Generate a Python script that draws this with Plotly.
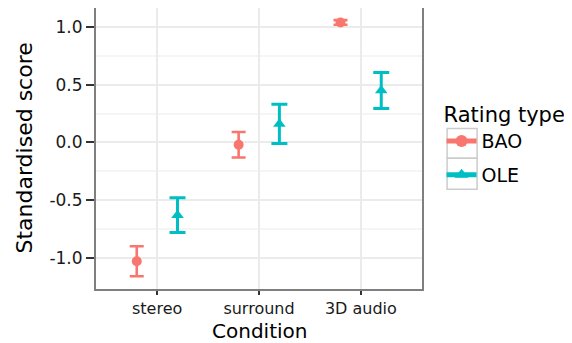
import plotly.graph_objects as go

conditions = ["stereo", "surround", "3D audio"]
cond_pos = [1, 2, 3]
bao_mean = [-1.03, -0.02, 1.04]
bao_err = [0.13, 0.11, 0.02]
ole_mean = [-0.63, 0.16, 0.45]
ole_err = [0.15, 0.17, 0.155]
y_ticks = [-1.0, -0.5, 0.0, 0.5, 1.0]
y_ticklabels = ["-1.0", "-0.5", "0.0", "0.5", "1.0"]
series_names = ["BAO", "OLE"]
series_colors = ["#F8766D", "#00BFC4"]
series_symbols = ["circle", "triangle-up"]

dodge = 0.2
font_family = "DejaVu Sans, Liberation Sans, sans-serif"

fig = go.Figure()
fig.add_trace(go.Scatter(
    x=[p - dodge for p in cond_pos], y=bao_mean, mode="markers", name="BAO",
    showlegend=False,
    marker=dict(symbol="circle", size=10, color=series_colors[0]),
    error_y=dict(type="data", array=bao_err, color=series_colors[0], thickness=2.6, width=7),
))
fig.add_trace(go.Scatter(
    x=[p + dodge for p in cond_pos], y=ole_mean, mode="markers", name="OLE",
    showlegend=False,
    marker=dict(symbol="triangle-up", size=11, color=series_colors[1]),
    error_y=dict(type="data", array=ole_err, color=series_colors[1], thickness=3, width=8),
))
# legend-only entries (ggplot-style key: point with a short bar)
for nm, col, sym in zip(series_names, series_colors, series_symbols):
    fig.add_trace(go.Scatter(
        x=[None], y=[None], mode="lines+markers", name=nm, legendgroup=nm,
        marker=dict(symbol=sym, size=10, color=col),
        line=dict(color=col, width=3.5),
    ))

# legend key boxes
for y0, y1 in [(0.465, 0.571), (0.355, 0.465)]:
    fig.add_shape(type="rect", xref="paper", yref="paper",
                  x0=1.077, x1=1.169, y0=y0, y1=y1,
                  line=dict(color="#CCCCCC", width=1.5), fillcolor="rgba(0,0,0,0)",
                  layer="above")

fig.update_layout(
    width=572, height=343,
    margin=dict(l=88, r=158, t=0, b=62),
    paper_bgcolor="white", plot_bgcolor="white",
    font=dict(family=font_family, color="black", size=17),
    legend=dict(
        title=dict(text="Rating type", font=dict(size=21, color="black")),
        x=1.06, y=0.515, xanchor="left", yanchor="middle",
        bgcolor="rgba(0,0,0,0)",
        font=dict(size=19, color="black"),
        tracegroupgap=6, itemsizing="constant", itemwidth=30,
    ),
    annotations=[
        dict(text="Condition", xref="paper", yref="paper", x=0.5, y=0,
             xanchor="center", yanchor="middle", yshift=-42, showarrow=False,
             font=dict(size=20, color="black")),
        dict(text="Standardised score", xref="paper", yref="paper", x=0, y=0.5,
             xanchor="center", yanchor="middle", xshift=-72, textangle=-90,
             showarrow=False, font=dict(size=22, color="black")),
    ],
)
fig.update_xaxes(
    range=[0.4, 3.6], tickmode="array", tickvals=cond_pos, ticktext=conditions,
    showgrid=True, gridcolor="#EBEBEB", gridwidth=1.5,
    ticks="outside", ticklen=4, tickcolor="#333333", tickwidth=1.5,
    tickfont=dict(size=16, color="#1a1a1a"),
    showline=True, linecolor="#7F7F7F", linewidth=2, mirror=True,
    zeroline=False, automargin=False,
)
fig.update_yaxes(
    range=[-1.27, 1.165], tickmode="array", tickvals=y_ticks, ticktext=y_ticklabels,
    showgrid=True, gridcolor="#EBEBEB", gridwidth=1.5,
    minor=dict(tickvals=[-0.75, -0.25, 0.25, 0.75], showgrid=True, gridcolor="#F5F5F5"),
    ticks="outside", ticklen=8, tickcolor="#333333", tickwidth=1.5,
    tickfont=dict(size=17, color="#1a1a1a"),
    showline=True, linecolor="#7F7F7F", linewidth=2, mirror=True,
    zeroline=False, automargin=False,
)

fig.write_html("out.html")
